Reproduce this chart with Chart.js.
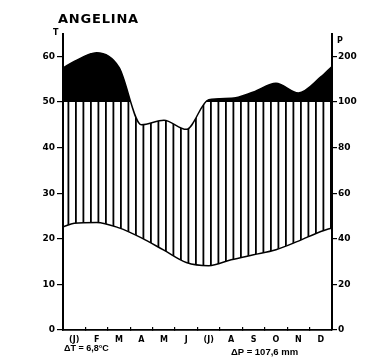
<!DOCTYPE html>
<html>
<head>
<meta charset="utf-8">
<script src="https://cdn.jsdelivr.net/npm/chart.js@4.4.1/dist/chart.umd.min.js"></script>
<style>
  html, body { margin: 0; padding: 0; background: #fff; }
  #wrap { position: relative; width: 365px; height: 363px; overflow: hidden; }
  canvas { position: absolute; left: 0; top: 0; }
  .lbl { position: absolute; font-family: 'DejaVu Sans', sans-serif; font-weight: bold; color: #000; white-space: nowrap; line-height: 1; }
</style>
</head>
<body>
<div id="wrap">
  <canvas id="chart" width="365" height="363"></canvas>
  <div class="lbl" style="left:58px; top:12px; font-size:13px; letter-spacing:0.8px;">ANGELINA</div>
  <div class="lbl" style="left:53px; top:29px; font-size:8px;">T</div>
  <div class="lbl" style="left:337px; top:37px; font-size:8px;">P</div>
  <div class="lbl" style="left:64px; top:344px; font-size:9px; font-family:'Liberation Sans', sans-serif;">ΔT = 6,8°C</div>
  <div class="lbl" style="left:231px; top:347px; font-size:9.5px; font-family:'Liberation Sans', sans-serif;">ΔP = 107,6 mm</div>
</div>
<script>
// ===================== DATA =====================

const months        = ['(J)', 'F', 'M', 'A', 'M', 'J', '(J)', 'A', 'S', 'O', 'N', 'D'];
const temperature   = [23.4, 23.6, 22.4, 20.2, 17.5, 14.8, 14.1, 15.4, 16.5, 17.6, 19.5, 21.6]; // °C, mid-month
const precipitation = [189, 208, 176, 90, 92, 88, 105, 108, 122, 141, 120, 155];               // mm, mid-month
const tempEdges     = [22.6, 22.4];   // value of the curve at the left / right frame
const precipEdges   = [175, 178];
const tTicks        = [0, 10, 20, 30, 40, 50, 60];

// P axis: 20 mm = 10 °C up to 100 mm, above that 100 mm = 10 °C
function pScale(p) { return p <= 100 ? p / 2 : 50 + (p - 100) / 10; }
function pLabel(v) { return v <= 50 ? v * 2 : 100 + (v - 50) * 10; }

function toPoints(values, edges, fn) {
    const pts = [{ x: 0, y: fn(edges[0]) }];
    values.forEach((v, i) => pts.push({ x: i + 0.5, y: fn(v) }));
    pts.push({ x: 12, y: fn(edges[1]) });
    return pts;
}

const tPts = toPoints(temperature, tempEdges, v => v);
const pPts = toPoints(precipitation, precipEdges, pScale);

// vertical hatching for the humid period
function makeHatch() {
    const c = document.createElement('canvas');
    c.width = 15; c.height = 10;
    const g = c.getContext('2d');
    g.fillStyle = '#000';
    g.fillRect(0, 0, 1.8, 10);
    g.fillRect(7.5, 0, 1.8, 10);
    return g.createPattern(c, 'repeat');
}

// ===================== CHART =====================

const tickFont = { family: 'DejaVu Sans', weight: 'bold', size: 9 };
const fixedTicks = s => { s.ticks = tTicks.map(v => ({ value: v })); };
const yMax = 50 * 296 / 228;   // puts the 50 line on a whole pixel

new Chart(document.getElementById('chart'), {
    type: 'line',
    data: {
        datasets: [
            {
                label: 'T',
                data: tPts,
                borderColor: '#000',
                borderWidth: 1.5,
                pointRadius: 0,
                cubicInterpolationMode: 'monotone',
                fill: false
            },
            {
                label: 'P',
                data: pPts,
                borderColor: '#000',
                borderWidth: 1.5,
                pointRadius: 0,
                cubicInterpolationMode: 'monotone',
                fill: { target: { value: 50 }, above: '#000', below: 'rgba(0,0,0,0)' }
            },
            {
                label: 'humid',
                data: pPts,
                borderWidth: 0,
                pointRadius: 0,
                cubicInterpolationMode: 'monotone',
                fill: { target: 0, above: makeHatch(), below: 'rgba(0,0,0,0)' }
            }
        ]
    },
    options: {
        responsive: false,
        animation: false,
        devicePixelRatio: 1,
        layout: { padding: { top: 34 } },
        plugins: { legend: { display: false }, tooltip: { enabled: false } },
        scales: {
            x: {
                type: 'linear',
                min: 0,
                max: 12,
                afterBuildTicks: s => { s.ticks = months.map((m, i) => ({ value: i + 0.5 })); },
                ticks: {
                    callback: (v, i) => months[i],
                    autoSkip: false,
                    maxRotation: 0,
                    color: '#000',
                    font: { family: 'DejaVu Sans', weight: 'bold', size: 8 },
                    padding: 8
                },
                grid: { offset: true, drawOnChartArea: false, tickLength: -3, color: '#000', lineWidth: 1.2 },
                border: { color: '#000', width: 1.8 },
                afterFit: s => { s.height = 33; }
            },
            y: {
                min: 0,
                max: yMax,
                afterBuildTicks: fixedTicks,
                ticks: { color: '#000', font: tickFont, padding: 2 },
                grid: { drawOnChartArea: false, tickLength: 6, color: '#000', lineWidth: 1.2 },
                border: { color: '#000', width: 2 },
                afterFit: s => { s.width = 63; }
            },
            y2: {
                position: 'right',
                min: 0,
                max: yMax,
                afterBuildTicks: fixedTicks,
                ticks: { color: '#000', font: tickFont, padding: 1, callback: v => pLabel(v) },
                grid: { drawOnChartArea: false, tickLength: 5, color: '#000', lineWidth: 1.2 },
                border: { color: '#000', width: 2 },
                afterFit: s => { s.width = 33; }
            }
        }
    }
});
</script>
</body>
</html>
